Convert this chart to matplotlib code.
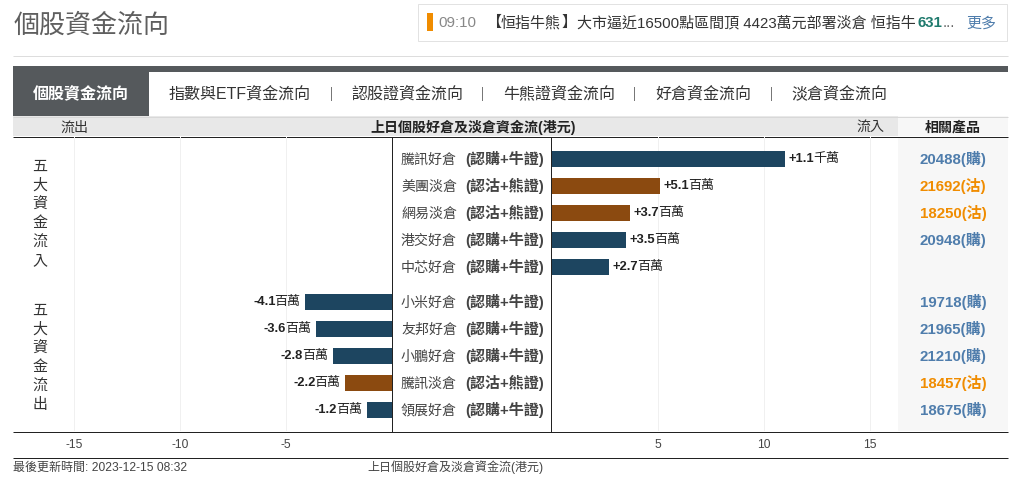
import matplotlib
matplotlib.use('Agg')
import matplotlib.pyplot as plt
from matplotlib.patches import Rectangle

plt.rcParams['font.family'] = ['Liberation Sans', 'Noto Sans CJK TC', 'DejaVu Sans']
plt.rcParams['axes.unicode_minus'] = False

# data
inflow_names = ['騰訊好倉', '美團淡倉', '網易淡倉', '港交好倉', '中芯好倉']
inflow_kinds = ['(認購+牛證)', '(認沽+熊證)', '(認沽+熊證)', '(認購+牛證)', '(認購+牛證)']
inflow_values = [11.0, 5.1, 3.7, 3.5, 2.7]
inflow_numbers = ['+1.1', '+5.1', '+3.7', '+3.5', '+2.7']
inflow_units = ['千萬', '百萬', '百萬', '百萬', '百萬']
inflow_products = ['20488(購)', '21692(沽)', '18250(沽)', '20948(購)', '']

outflow_names = ['小米好倉', '友邦好倉', '小鵬好倉', '騰訊淡倉', '領展好倉']
outflow_kinds = ['(認購+牛證)', '(認購+牛證)', '(認購+牛證)', '(認沽+熊證)', '(認購+牛證)']
outflow_values = [-4.1, -3.6, -2.8, -2.2, -1.2]
outflow_numbers = ['-4.1', '-3.6', '-2.8', '-2.2', '-1.2']
outflow_units = ['百萬', '百萬', '百萬', '百萬', '百萬']
outflow_products = ['19718(購)', '21965(購)', '21210(購)', '18457(沽)', '18675(購)']

left_ticks = [-15, -10, -5]
right_ticks = [5, 10, 15]
tabs = ['指數與ETF資金流向', '認股證資金流向', '牛熊證資金流向', '好倉資金流向', '淡倉資金流向']
tab_x = [240, 407.5, 559, 703, 839]
tab_sep = [331, 482, 634, 771]

NAVY = '#1d4560'
BROWN = '#8b4a10'
BLUE = '#4f7dac'
ORANGE = '#f08c00'
DARK = '#55595c'
W, H = 1012, 493

fig = plt.figure(figsize=(W / 100, H / 100), dpi=100)
bg = fig.add_axes([0, 0, 1, 1])
bg.set_xlim(0, W)
bg.set_ylim(H, 0)
bg.axis('off')


def px(size):
    return size * 0.72


def box(x0, y0, x1, y1, **kw):
    bg.add_patch(Rectangle((x0, y0), x1 - x0, y1 - y0, linewidth=kw.pop('lw', 0), **kw))


def label(x, y, s, size, color='#333333', ha='left', weight='normal'):
    # y is the visual middle of the line, the baseline stays fixed whatever the glyphs
    bg.text(x, y + size * 0.36, s, fontsize=px(size), color=color, ha=ha, va='baseline', weight=weight)


def hline(y, x0=13, x1=1008, color='#222222'):
    bg.plot([x0, x1], [y, y], color=color, lw=0.72, solid_capstyle='butt')


# header
label(14, 23, '個股資金流向', 26, color='#5f5f5f')
hline(55.5, color='#dddddd')
box(418.5, 3.5, 1007.5, 40.5, facecolor='white', edgecolor='#e2e2e2', lw=0.72)
box(427, 13, 433, 31, facecolor=ORANGE)
label(438, 22, '09:10', 15, color='#888888')
label(486, 22, '【', 15)
label(501, 22, '恒指牛熊', 15)
label(561, 22, '】', 15)
label(577, 22, '大市逼近16500點區間頂 4423萬元部署淡倉 恒指牛', 15)
label(918, 22, '631', 15, color='#1f7a6d', weight='bold')
label(943, 22, '...', 15, color='#666666')
label(966, 22, '更多', 15, color=BLUE)

# tabs
box(13, 66, 1008, 72, facecolor=DARK)
box(13, 72, 149, 116, facecolor=DARK)
label(81, 93, '個股資金流向', 16, color='white', ha='center', weight='bold')
for name, x in zip(tabs, tab_x):
    label(x, 93, name, 16, ha='center')
for x in tab_sep:
    bg.plot([x, x], [87, 100], color='#777777', lw=0.72)

# table header
box(13, 116, 898, 136, facecolor='#e8e8e8')
box(898, 116, 1008, 136, facecolor='#f7f7f7')
hline(116.5, color='#d8d8d8')
label(74, 126.5, '流出', 14, ha='center')
label(473, 126.5, '上日個股好倉及淡倉資金流(港元)', 14, color='#222222', ha='center', weight='bold')
label(870, 126.5, '流入', 14, ha='center')
label(953, 126.5, '相關產品', 14, color='#222222', ha='center', weight='bold')
box(898, 137, 1008, 431, facecolor='#f7f7f7')

# vertical group titles
for y0, chars in [(165, '五大資金流入'), (309, '五大資金流出')]:
    for i, c in enumerate(chars):
        label(40, y0 + i * 19, c, 15, ha='center')

# bars
inflow_y = [159 + 27 * i for i in range(5)]
outflow_y = [302 + 27 * i for i in range(5)]
scale = 21.2
left = fig.add_axes([13 / W, 1 - 431 / H, (392 - 13) / W, 294 / H], facecolor='none')
right = fig.add_axes([552 / W, 1 - 431 / H, (898 - 552) / W, 294 / H], facecolor='none')
left.set_xlim(-(392 - 13) / scale, 0)
right.set_xlim(0, (898 - 552) / scale)
for ax in (left, right):
    ax.set_ylim(431, 137)
    ax.set_yticks([])
    ax.set_axisbelow(True)
    ax.grid(axis='x', color='#f0f0f0', lw=0.72)
    for s in ax.spines.values():
        s.set_visible(False)
    ax.tick_params(axis='x', length=0, pad=6, labelsize=px(12), labelcolor='#444444')
left.set_xticks(left_ticks)
right.set_xticks(right_ticks)


def bar_color(name):
    return BROWN if '淡倉' in name else NAVY


right.barh(inflow_y, inflow_values, height=16, color=[bar_color(n) for n in inflow_names])
left.barh(outflow_y, outflow_values, height=16, color=[bar_color(n) for n in outflow_names])

# value labels: bold number, regular unit, chained to each other
for y, v, num, unit in zip(inflow_y, inflow_values, inflow_numbers, inflow_units):
    t = right.annotate(num, (v, y), xytext=(2.5, 0), textcoords='offset points', fontsize=px(13),
                       va='center', ha='left', color='#222222', weight='bold')
    right.annotate(unit, xy=(1, 0.5), xycoords=t, xytext=(-1, 0), textcoords='offset points',
                   fontsize=px(13), va='center', ha='left', color='#222222')
for y, v, num, unit in zip(outflow_y, outflow_values, outflow_numbers, outflow_units):
    t = left.annotate(unit, (v, y), xytext=(-3.5, 0), textcoords='offset points', fontsize=px(13),
                      va='center', ha='right', color='#222222')
    left.annotate(num, xy=(0, 0.5), xycoords=t, xytext=(1, 0), textcoords='offset points',
                  fontsize=px(13), va='center', ha='right', color='#222222', weight='bold')

# middle names and product codes
rows = list(zip(inflow_y, inflow_names, inflow_kinds, inflow_products)) + \
    list(zip(outflow_y, outflow_names, outflow_kinds, outflow_products))
for y, name, kind, prod in rows:
    label(401, y - 0.5, name, 14, color='#444444')
    label(465, y - 0.5, kind, 15, color='#444444', weight='bold')
    label(953, y - 0.5, prod, 15, ha='center', weight='bold', color=ORANGE if '沽' in prod else BLUE)

bg.plot([392.5, 392.5], [137, 431], color='#222222', lw=0.72)
bg.plot([551.5, 551.5], [137, 431], color='#222222', lw=0.72)
hline(136.5)
hline(431.5)
hline(457.5)

# footer
label(13, 467, '最後更新時間: 2023-12-15 08:32', 12, color='#444444')
label(455, 467, '上日個股好倉及淡倉資金流(港元)', 12, color='#444444', ha='center')

fig.savefig('out.png', dpi=100)
